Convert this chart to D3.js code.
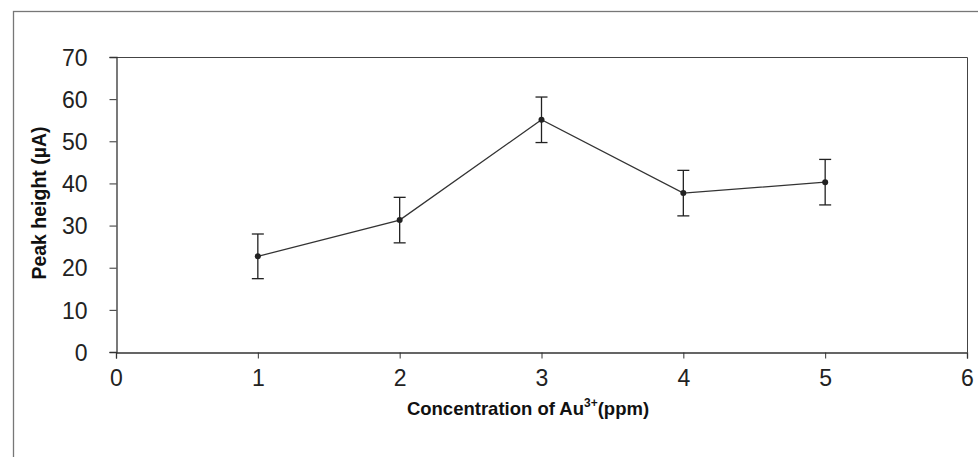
<!DOCTYPE html>
<html>
<head>
<meta charset="utf-8">
<script src="https://cdn.jsdelivr.net/npm/d3@7"></script>
<style>
  body { margin: 0; background: #fff; }
  svg { display: block; font-family: "Liberation Sans", Arial, sans-serif; }
</style>
</head>
<body>
<div id="chart"></div>
<script>
// concentration (ppm), peak height (µA) and its error
const conc = [1, 2, 3, 4, 5];
const peak = [22.7, 31.3, 55.1, 37.7, 40.3];
const err = [5.3, 5.4, 5.4, 5.4, 5.4];
const xTicks = [0, 1, 2, 3, 4, 5, 6];
const yTicks = [0, 10, 20, 30, 40, 50, 60, 70];

const width = 978, height = 457;
const plot = { left: 116, right: 967, top: 57, bottom: 352 };

const svg = d3.select("#chart").append("svg")
  .attr("width", width)
  .attr("height", height);

// outer chart frame
svg.append("rect")
  .attr("x", 13.5).attr("y", 11.5)
  .attr("width", 980).attr("height", 460)
  .attr("fill", "none")
  .attr("stroke", "#777")
  .attr("stroke-width", 1.3);

const x = d3.scaleLinear().domain([0, 6]).range([plot.left, plot.right]);
const y = d3.scaleLinear().domain([0, 70]).range([plot.bottom, plot.top]);

// plot-area box (top and right sides)
svg.append("path")
  .attr("d", `M${plot.left},${plot.top + 0.5}H${plot.right + 0.5}V${plot.bottom}`)
  .attr("fill", "none")
  .attr("stroke", "#444")
  .attr("stroke-width", 1);

// axes
const xAxis = svg.append("g")
  .attr("transform", `translate(0,${plot.bottom + 0.5})`)
  .call(d3.axisBottom(x).tickValues(xTicks).tickSize(6).tickPadding(11).tickFormat(d3.format("d")));

const yAxis = svg.append("g")
  .attr("transform", `translate(${plot.left + 0.5},0)`)
  .call(d3.axisLeft(y).tickValues(yTicks).tickSize(7).tickPadding(22).tickFormat(d3.format("d")));

[xAxis, yAxis].forEach(a => {
  a.attr("font-size", null);
  a.select(".domain").attr("stroke", "#333").attr("stroke-width", 1.3);
  a.selectAll(".tick line").attr("stroke", "#333");
  a.selectAll(".tick text")
    .attr("fill", "#222")
    .style("font-size", "23px")
    .style("font-family", "'Liberation Sans', Arial, sans-serif");
});
yAxis.selectAll(".tick text").attr("dy", "0.36em");

// axis titles
const xTitle = svg.append("text")
  .attr("x", 528).attr("y", 415)
  .attr("text-anchor", "middle")
  .style("font-size", "18.5px")
  .attr("font-weight", "bold")
  .attr("fill", "#111");
xTitle.append("tspan").text("Concentration of Au");
xTitle.append("tspan").attr("dy", -8).style("font-size", "12px").text("3+");
xTitle.append("tspan").attr("dy", 8).text("(ppm)");

svg.append("text")
  .attr("transform", "translate(46,203) rotate(-90)")
  .attr("text-anchor", "middle")
  .style("font-size", "19.5px")
  .attr("font-weight", "bold")
  .attr("fill", "#111")
  .text("Peak height (µA)");

const data = conc.map((c, i) => ({ c, v: peak[i], e: err[i] }));

// series line
svg.append("path")
  .datum(data)
  .attr("fill", "none")
  .attr("stroke", "#333")
  .attr("stroke-width", 1.3)
  .attr("d", d3.line().x(d => x(d.c)).y(d => y(d.v)));

// error bars
const eb = svg.append("g")
  .attr("stroke", "#222")
  .attr("stroke-width", 1.3)
  .selectAll("g")
  .data(data)
  .enter().append("g");

eb.append("line")
  .attr("x1", d => x(d.c)).attr("x2", d => x(d.c))
  .attr("y1", d => y(d.v + d.e)).attr("y2", d => y(d.v - d.e));
eb.append("line")
  .attr("x1", d => x(d.c) - 6).attr("x2", d => x(d.c) + 6)
  .attr("y1", d => y(d.v + d.e)).attr("y2", d => y(d.v + d.e));
eb.append("line")
  .attr("x1", d => x(d.c) - 6).attr("x2", d => x(d.c) + 6)
  .attr("y1", d => y(d.v - d.e)).attr("y2", d => y(d.v - d.e));

// markers
svg.append("g")
  .selectAll("circle")
  .data(data)
  .enter().append("circle")
  .attr("cx", d => x(d.c))
  .attr("cy", d => y(d.v))
  .attr("r", 3)
  .attr("fill", "#222");
</script>
</body>
</html>
